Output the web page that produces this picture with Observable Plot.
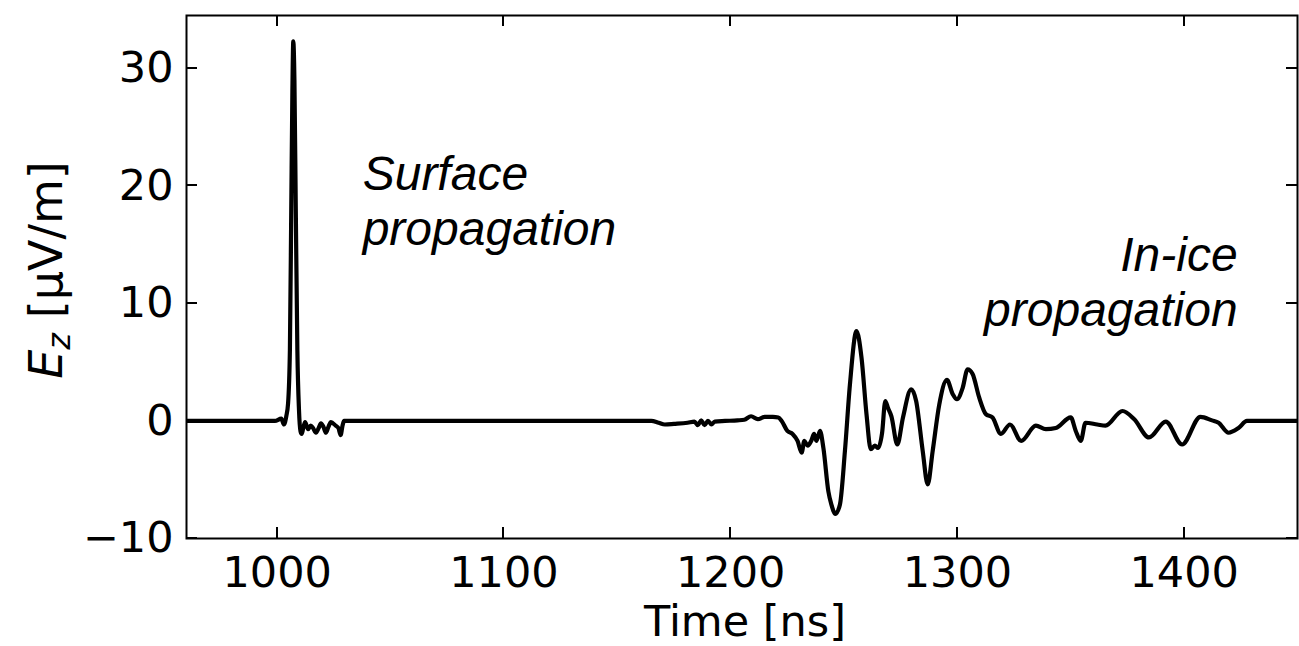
<!DOCTYPE html>
<html><head><meta charset="utf-8">
<script src="https://cdn.jsdelivr.net/npm/d3@7"></script>
<script src="https://cdn.jsdelivr.net/npm/@observablehq/plot@0.6"></script>
<style>body{margin:0;background:#fff}</style>
</head><body><div id="chart"></div>
<script>
// Time [ns]
const time = [960, 999, 1001.8, 1003, 1004, 1004.8, 1005.6, 1006.2, 1006.7, 1007.1, 1007.6, 1008.2, 1008.9, 1009.6, 1010.3, 1010.8, 1011.5, 1012.3, 1013.6, 1014.8, 1015.8, 1017.1, 1018.3, 1019.3, 1020.4, 1021.5, 1022.6, 1023.7, 1025.8, 1027.0, 1028.0, 1028.8, 1029.5,
  1160, 1165, 1168.2, 1171, 1175, 1181, 1184, 1185.5, 1187, 1188.5, 1190, 1191.5, 1193, 1197.5, 1203, 1206, 1209, 1212, 1215, 1218.6, 1221, 1222.5,
  1225, 1227.3, 1229.5, 1231.3, 1232.5, 1234, 1235.5, 1236.8, 1237.8, 1239.4, 1240.9, 1243.1, 1244.4, 1246.2, 1248.2, 1250.4, 1252.6, 1255.5, 1257.7, 1259.9,
  1261.8, 1263.6, 1265.0, 1266.8, 1268.2, 1269.4, 1270.9, 1273.5, 1276, 1279.6, 1281.8, 1284.7, 1286.9, 1289.1, 1292, 1295.4, 1297.9, 1299.8, 1302.3, 1304.5,
  1306.7, 1309.6, 1312.5, 1315.5, 1319.2, 1323.2, 1328.1, 1334.6, 1339, 1343.4, 1350, 1352.2, 1354.4, 1356.5, 1361.7, 1365.3, 1372.8, 1378, 1384.5, 1391.9,
  1399.1, 1407.2, 1412.3, 1415.2, 1419.6, 1424, 1427.7, 1450];
// E_z [µV/m]
const ez = [0, 0, 0.2, -0.3, 0.4, 1.5, 6, 18, 28, 32.3, 29, 18, 6, 1, -0.9, -1.1, -0.6, -0.1, -0.7, -0.4, -0.6, -1.0, -0.6, -0.2, -0.5, -1.0, -0.5, -0.1, -0.4, -0.6, -1.2, -0.4, 0,
  0, 0, -0.15, -0.3, -0.25, -0.15, -0.05, -0.35, 0.05, -0.35, 0.0, -0.3, -0.05, 0, 0.05, 0.1, 0.4, 0.15, 0.35, 0.35, 0.3, 0,
  -0.85, -1.1, -1.7, -2.7, -1.7, -2.1, -1.7, -1.1, -1.7, -0.85, -2.3, -6.0, -7.1, -7.9, -7.1, -2.55, 3.1, 7.65, 5.4, 0.6,
  -2.4, -2.1, -2.3, -1.0, 1.7, 1.1, 0.4, -2.0, 0.3, 2.7, 1.7, -2.55, -5.4, -2.55, 1.4, 3.5, 2.3, 1.85, 2.8, 4.4,
  4.0, 2.0, 0.6, 0.3, -1.1, -0.3, -1.7, -0.4, -0.7, -0.6, 0.3, -0.85, -1.7, -0.15, -0.3, -0.4, 0.85, 0.15, -1.4, -0.05,
  -2.0, 0.35, 0.05, -0.15, -1.0, -0.6, 0, 0];
const xTicks = [1000, 1100, 1200, 1300, 1400];
const yTicks = [-10, 0, 10, 20, 30];
const annotationTexts = ["Surface\npropagation", "In-ice\npropagation"];

const W = 1299, H = 646, mL = 186, mR = 2, mT = 15, mB = 108;
const data = time.map((t, i) => ({t, v: ez[i]}));
const fmt = d3.format("d");

const plot = Plot.plot({
  width: W, height: H,
  marginLeft: mL, marginRight: mR, marginTop: mT, marginBottom: mB,
  style: {fontFamily: "'DejaVu Sans', sans-serif", fontSize: "43px", background: "#fff", color: "#000", overflow: "visible"},
  x: {domain: [960, 1450]},
  y: {domain: [-10, 34.5]},
  marks: [
    Plot.axisX(xTicks, {tickSize: 0, tickPadding: 18, label: null, fill: "#000", tickFormat: fmt}),
    Plot.axisY(yTicks, {tickSize: 0, tickPadding: 13, label: null, fill: "#000", tickFormat: fmt}),
    Plot.line(data, {x: "t", y: "v", stroke: "#000", strokeWidth: 4.2, curve: "monotone-x", clip: true}),
    Plot.text([annotationTexts[0]], {x: 1037.7, y: 18.8, text: d => d, textAnchor: "start", lineAnchor: "middle",
      fontFamily: "'Liberation Sans', Arial, sans-serif", fontStyle: "italic", fontSize: 48, lineHeight: 1.15, fill: "#000"}),
    Plot.text([annotationTexts[1]], {x: 1423.6, y: 11.95, text: d => d, textAnchor: "end", lineAnchor: "middle",
      fontFamily: "'Liberation Sans', Arial, sans-serif", fontStyle: "italic", fontSize: 48, lineHeight: 1.15, fill: "#000"}),
    Plot.frame({strokeWidth: 2, stroke: "#000"})
  ]
});

const svg = d3.select(plot);
const sx = plot.scale("x"), sy = plot.scale("y");
const x0 = mL, x1 = W - mR, y0 = mT, y1 = H - mB, tl = 11;
let d = "";
for (const t of xTicks) {
  const px = Math.round(sx.apply(t));
  d += `M${px},${y1}V${y1 - tl}M${px},${y0}V${y0 + tl}`;
}
for (const v of yTicks) {
  const py = Math.round(sy.apply(v));
  d += `M${x0},${py}H${x0 + tl}M${x1},${py}H${x1 - tl}`;
}
svg.append("path").attr("d", d).attr("fill", "none")
  .attr("style", "stroke:#000;stroke-width:2px;fill:none");

const yl = svg.append("text")
  .attr("transform", "translate(62,270) rotate(-90)")
  .attr("text-anchor", "middle")
  .attr("fill", "#000")
  .style("font-family", "'DejaVu Sans', sans-serif")
  .style("font-size", "46px");
yl.append("tspan").attr("font-style", "italic").text("E");
yl.append("tspan").attr("font-style", "italic").attr("font-size", "32px").attr("dy", 8).text("z");
yl.append("tspan").attr("dy", -8).text(" [μV/m]");

svg.append("text")
  .attr("x", 745).attr("y", 636)
  .attr("text-anchor", "middle")
  .attr("fill", "#000")
  .style("font-family", "'DejaVu Sans', sans-serif")
  .style("font-size", "43px")
  .text("Time [ns]");

document.getElementById("chart").appendChild(plot);
</script>
</body></html>
